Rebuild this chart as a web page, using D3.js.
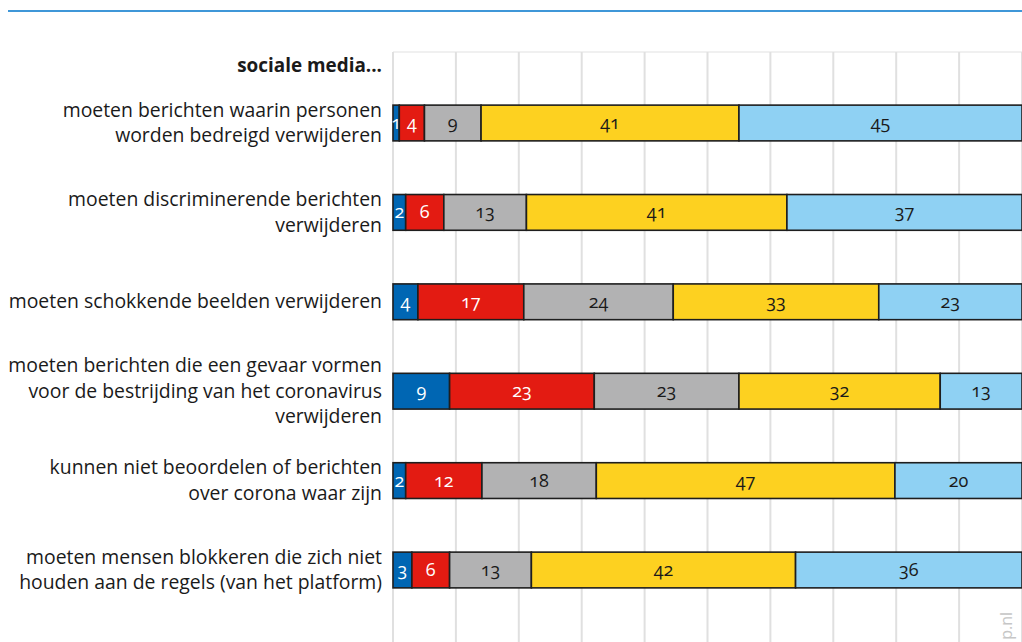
<!DOCTYPE html>
<html>
<head>
<meta charset="utf-8">
<script src="https://cdn.jsdelivr.net/npm/d3@7"></script>
<style>
  body { margin: 0; background: #fff; }
  svg { display: block; font-family: "Open Sans", sans-serif; }
  .lbl { font-size: 19.4px; fill: #1a1a1a; }
  .num { font-size: 18px; font-variant-numeric: oldstyle-nums; }
</style>
</head>
<body>
<script>
// categories (each entry = lines of the label)
var categories = [
  ["moeten berichten waarin personen", "worden bedreigd verwijderen"],
  ["moeten discriminerende berichten", "verwijderen"],
  ["moeten schokkende beelden verwijderen"],
  ["moeten berichten die een gevaar vormen", "voor de bestrijding van het coronavirus", "verwijderen"],
  ["kunnen niet beoordelen of berichten", "over corona waar zijn"],
  ["moeten mensen blokkeren die zich niet", "houden aan de regels (van het platform)"]
];
var header = "sociale media...";

// series values, percent per answer group
var keys = ["s1", "s2", "s3", "s4", "s5"];
var s1 = [1, 2, 4, 9, 2, 3];
var s2 = [4, 6, 17, 23, 12, 6];
var s3 = [9, 13, 24, 23, 18, 13];
var s4 = [41, 41, 33, 32, 47, 42];
var s5 = [45, 37, 23, 13, 20, 36];
var xTicks = [0, 10, 20, 30, 40, 50, 60, 70, 80, 90, 100];

var colors = { s1: "#0066b3", s2: "#e31b12", s3: "#b2b2b3", s4: "#fdd120", s5: "#8fd1f3" };
var textColors = { s1: "#fff", s2: "#fff", s3: "#1a1a1a", s4: "#1a1a1a", s5: "#1a1a1a" };

var W = 1022, H = 642;
var svg = d3.select("body").append("svg").attr("width", W).attr("height", H);

var rows = categories.map(function (c, i) {
  return { id: i, s1: s1[i], s2: s2[i], s3: s3[i], s4: s4[i], s5: s5[i] };
});

var x = d3.scaleLinear().domain([0, 1]).range([393, 1022]);
var xg = d3.scaleLinear().domain([0, 100]).range([393, 1022]);
var y = d3.scaleBand()
  .domain(rows.map(function (d) { return d.id; }))
  .range([78.3, 614.7])
  .paddingInner(0.6)
  .paddingOuter(0.3);

// top blue rule
svg.append("line")
  .attr("x1", 8).attr("x2", W).attr("y1", 11).attr("y2", 11)
  .attr("stroke", "#3f97d8").attr("stroke-width", 2);

// grid
var plotTop = 52;
svg.append("line")
  .attr("x1", 393).attr("x2", W).attr("y1", plotTop).attr("y2", plotTop)
  .attr("stroke", "#ebebeb").attr("stroke-width", 1.5);
svg.append("g").selectAll("line")
  .data(xTicks)
  .enter().append("line")
  .attr("x1", function (d) { return xg(d); })
  .attr("x2", function (d) { return xg(d); })
  .attr("y1", plotTop).attr("y2", H)
  .attr("stroke", "#e0e0e0").attr("stroke-width", 2);

// header
svg.append("text")
  .attr("x", 382).attr("y", 72)
  .attr("text-anchor", "end")
  .attr("font-size", 18.9).attr("font-weight", "bold").attr("fill", "#1a1a1a")
  .text(header);

// category labels
var lineH = 25.5;
svg.append("g").selectAll("text")
  .data(rows)
  .enter().append("text")
  .attr("class", "lbl")
  .attr("text-anchor", "end")
  .each(function (d) {
    var lines = categories[d.id];
    var cy = y(d.id) + y.bandwidth() / 2;
    var t = d3.select(this);
    lines.forEach(function (l, j) {
      t.append("tspan")
        .attr("x", 382)
        .attr("y", cy + 6.5 + (j - (lines.length - 1) / 2) * lineH)
        .text(l);
    });
  });

// stacked bars
var stack = d3.stack().keys(keys).offset(d3.stackOffsetExpand);
var series = stack(rows);

var layers = svg.append("g").selectAll("g")
  .data(series)
  .enter().append("g");

layers.selectAll("rect")
  .data(function (s) { return s.map(function (p) { return { key: s.key, p: p }; }); })
  .enter().append("rect")
  .attr("x", function (d) { return x(d.p[0]); })
  .attr("width", function (d) { return x(d.p[1]) - x(d.p[0]); })
  .attr("y", function (d) { return y(d.p.data.id); })
  .attr("height", y.bandwidth())
  .attr("fill", function (d) { return colors[d.key]; })
  .attr("stroke", "#1e1e1e")
  .attr("stroke-width", 1.6);

layers.selectAll("text")
  .data(function (s) { return s.map(function (p) { return { key: s.key, p: p }; }); })
  .enter().append("text")
  .attr("class", "num")
  .attr("text-anchor", "middle")
  .attr("x", function (d) { return (x(d.p[0]) + x(d.p[1])) / 2; })
  .attr("y", function (d) { return y(d.p.data.id) + y.bandwidth() / 2 + 6; })
  .attr("fill", function (d) { return textColors[d.key]; })
  .text(function (d) { return d.p.data[d.key]; });

// watermark (cut off by the edge)
svg.append("text")
  .attr("transform", "translate(1012,612) rotate(-90)")
  .attr("text-anchor", "end")
  .attr("font-size", 16)
  .attr("fill", "#c6c6c6")
  .text("p.nl");
</script>
</body>
</html>
